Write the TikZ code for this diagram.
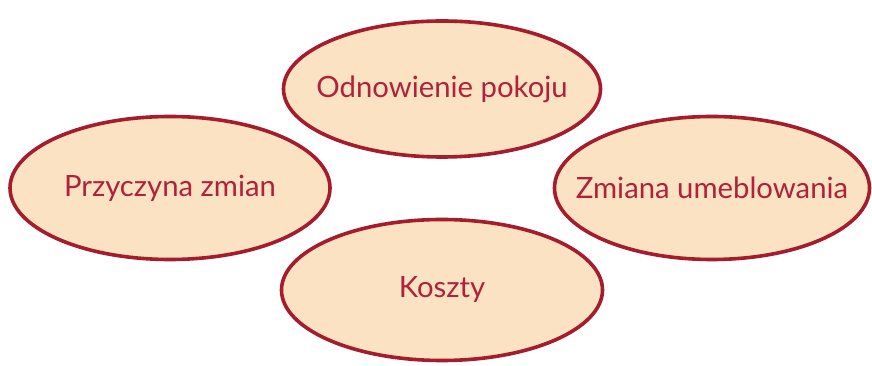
\documentclass[tikz,border=0pt]{standalone}
\usepackage{fontspec}
\setmainfont{Lato}
\usetikzlibrary{shapes.geometric}
\definecolor{bbRed}{HTML}{A51D2D}
\definecolor{bbText}{HTML}{B0223A}
\definecolor{bbPeach}{HTML}{FBE2C2}
\tikzset{
  % one style for every bubble of the mind map; negative x sep so that
  % the minimum size, not the text, fixes the ellipse
  bubble/.style = {ellipse, draw=bbRed, fill=bbPeach, line width=3.6pt,
                   inner xsep=-50pt, inner ysep=0pt, text=bbText,
                   font=\fontsize{29.3}{32}\selectfont},
}

\begin{document}
\begin{tikzpicture}[x=1pt,y=1pt]
  % page frame: same size as the scan
  \useasboundingbox (0,0) rectangle (872,366);
  \fill[white] (0,0) rectangle (872,366);
  % the four topics
  \node[bubble, minimum width=317pt, minimum height=136pt] (renovation) at (442,277) {Odnowienie pokoju};
  \node[bubble, minimum width=320pt, minimum height=143pt] (reason)     at (170,178) {Przyczyna zmian};
  \node[bubble, minimum width=315pt, minimum height=143pt] (furniture)  at (712,178) {Zmiana umeblowania};
  \node[bubble, minimum width=321pt, minimum height=141pt] (costs)      at (442,76)  {Koszty};
\end{tikzpicture}
\end{document}
